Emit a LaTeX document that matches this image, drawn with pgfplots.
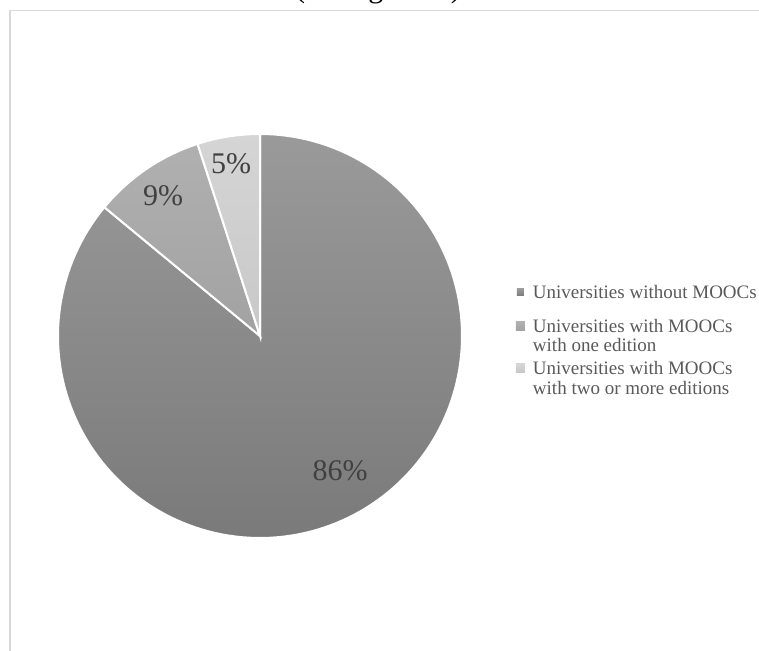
\documentclass[border=0pt]{standalone}
\usepackage{pgfplots}
\usepackage{pgfplotstable}
\pgfplotsset{compat=1.18}
\usepackage{fontspec}
\setmainfont{Liberation Serif}
\definecolor{sA1}{HTML}{9A9A9A}
\definecolor{sA2}{HTML}{7A7A7A}
\definecolor{sB1}{HTML}{B0B0B0}
\definecolor{sB2}{HTML}{A2A2A2}
\definecolor{sC1}{HTML}{D5D5D5}
\definecolor{sC2}{HTML}{C8C8C8}
\definecolor{lab}{HTML}{404040}
\definecolor{leg}{HTML}{595959}
\definecolor{framec}{HTML}{D9D9D9}

\pgfplotsset{
  legsmall/.style={legend image code/.code={\fill[##1, draw=none] (1pt,3pt) rectangle (8pt,10pt);}},
  legbig/.style={legend image code/.code={\fill[##1, draw=none] (0pt,2pt) rectangle (9pt,11pt);}},
}

\pgfplotstableread{
share
86
9
5
}\piedata

\begin{document}%
\begin{tikzpicture}
\pgfplotstablegetelem{0}{share}\of\piedata \let\pA\pgfplotsretval
\pgfplotstablegetelem{1}{share}\of\piedata \let\pB\pgfplotsretval
\pgfplotstablegetelem{2}{share}\of\piedata \let\pC\pgfplotsretval
\pgfmathsetmacro{\aA}{90-3.6*\pA}
\pgfmathsetmacro{\aB}{\aA-3.6*\pB}
\pgfmathsetmacro{\aC}{\aB-3.6*\pC}
\begin{axis}[
  at={(0pt,0pt)}, anchor=south west,
  scale only axis, width=759pt, height=650pt,
  xmin=0, xmax=759, ymin=0, ymax=650, enlargelimits=false,
  hide axis, clip=false,
  legend style={at={(0.6798,0.5631)}, anchor=north west, draw=none, fill=none,
    inner sep=0pt, outer sep=0pt, column sep=8pt, row sep=0pt,
    font=\fontsize{19}{20}\selectfont, text=leg,
    nodes={inner sep=0pt, outer sep=0pt}, cells={anchor=base west}},
]
\path (axis cs:0,0) rectangle (axis cs:759,650);
\draw[overlay, framec, line width=1.2pt] (axis cs:10,-20) |- (axis cs:800,639.5);
\node[overlay, anchor=base, font=\fontsize{30}{30}\selectfont] at (axis cs:378,652) {(during 2013)};

\addplot[draw=white, line width=2pt, top color=sA1, bottom color=sA2,
  domain=\aA:90, samples=160, legsmall]
  ({260+202*cos(x)},{314+202*sin(x)}) -- (axis cs:260,314) -- cycle;
\addlegendentry[text height=15pt, text depth=19pt]{Universities without MOOCs}

\addplot[draw=white, line width=2pt, top color=sB1, bottom color=sB2,
  domain=\aB:\aA, samples=30, legbig]
  ({260+202*cos(x)},{314+202*sin(x)}) -- (axis cs:260,314) -- cycle;
\addlegendentry[text height=15pt, text depth=4pt]{Universities with MOOCs}
\addlegendimage{empty legend}
\addlegendentry[text height=15pt, text depth=8pt]{with one edition}

\addplot[draw=white, line width=2pt, top color=sC1, bottom color=sC2,
  domain=\aC:\aB, samples=20, legbig]
  ({260+202*cos(x)},{314+202*sin(x)}) -- (axis cs:260,314) -- cycle;
\addlegendentry[text height=15pt, text depth=5pt]{Universities with MOOCs}
\addlegendimage{empty legend}
\addlegendentry[text height=15pt, text depth=4pt]{with two or more editions}

\node[text=lab, font=\fontsize{30}{30}\selectfont] at (axis cs:340,179) {86\%};
\node[text=lab, font=\fontsize{30}{30}\selectfont] at (axis cs:163,454) {9\%};
\node[text=lab, font=\fontsize{30}{30}\selectfont] at (axis cs:231,486) {5\%};
\end{axis}
\end{tikzpicture}%
\end{document}
